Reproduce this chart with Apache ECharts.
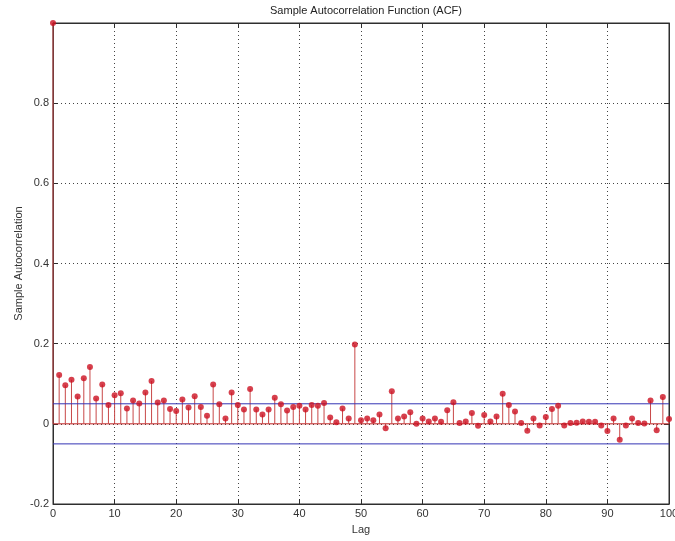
<!DOCTYPE html>
<html>
<head>
<meta charset="utf-8">
<style>
  html, body { margin: 0; padding: 0; background: #fff; }
  #chart { width: 675px; height: 541px; }
</style>
<script src="https://cdn.jsdelivr.net/npm/echarts@6/dist/echarts.min.js"></script>
</head>
<body>
<div id="chart"></div>
<script>
// Sample autocorrelation for lags 0..100
const lags = Array.from({ length: 101 }, (_, i) => i);
const acf = [
  1.000, 0.122, 0.096, 0.110, 0.068, 0.114, 0.142, 0.063, 0.098, 0.047,
  0.071, 0.076, 0.038, 0.058, 0.051, 0.078, 0.107, 0.053, 0.058, 0.037,
  0.032, 0.061, 0.041, 0.069, 0.042, 0.020, 0.098, 0.049, 0.013, 0.078,
  0.047, 0.036, 0.087, 0.036, 0.023, 0.036, 0.065, 0.049, 0.033, 0.042,
  0.045, 0.036, 0.047, 0.045, 0.052, 0.016, 0.004, 0.038, 0.013, 0.198,
  0.009, 0.013, 0.009, 0.023, -0.011, 0.081, 0.013, 0.018, 0.029, 0.000,
  0.013, 0.006, 0.013, 0.005, 0.034, 0.054, 0.002, 0.006, 0.027, -0.005,
  0.022, 0.006, 0.018, 0.075, 0.047, 0.031, 0.002, -0.017, 0.013, -0.004,
  0.017, 0.037, 0.045, -0.004, 0.002, 0.003, 0.006, 0.005, 0.005, -0.004,
  -0.018, 0.013, -0.040, -0.004, 0.013, 0.002, 0.001, 0.058, -0.016, 0.067,
  0.012
];
// Approximate 95% confidence bound
const bound = 0.05;
const xTicks = [0, 10, 20, 30, 40, 50, 60, 70, 80, 90, 100];
const yTicks = [-0.2, 0, 0.2, 0.4, 0.6, 0.8];

const points = lags.map((l, i) => [l, acf[i]]);
const font = 'Liberation Sans, Arial, sans-serif';
const axisColor = '#2e2e2e';
const textColor = '#333';
const boundColor = '#3434b4';

const chart = echarts.init(document.getElementById('chart'), null, { renderer: 'canvas' });

const gridLine = { show: true, lineStyle: { color: '#444', type: [1, 3], width: 1 } };

chart.setOption({
  animation: false,
  backgroundColor: '#fff',
  title: {
    text: 'Sample Autocorrelation Function (ACF)',
    left: 361, top: 0, textAlign: 'center',
    textStyle: { fontFamily: font, fontSize: 11, fontWeight: 'normal', color: '#222' }
  },
  grid: {
    left: 53, right: 6, top: 23, bottom: 37,
    outerBoundsMode: 'none', containLabel: false,
    show: true, borderColor: axisColor, borderWidth: 1
  },
  xAxis: [{
    type: 'value', min: 0, max: 100, interval: 10,
    name: 'Lag', nameLocation: 'middle', nameGap: 20, nameMoveOverlap: false,
    nameTextStyle: { fontFamily: font, fontSize: 11, color: textColor },
    axisLine: { show: true, onZero: false, lineStyle: { color: axisColor } },
    axisTick: { show: true, inside: true, length: 5, lineStyle: { color: axisColor } },
    axisLabel: {
      fontFamily: font, fontSize: 11, color: textColor, margin: 4,
      formatter: v => xTicks.includes(v) ? String(v) : ''
    },
    splitLine: gridLine
  }, {
    type: 'value', min: 0, max: 100, interval: 10, position: 'top',
    axisLine: { show: true, onZero: false, lineStyle: { color: axisColor } },
    axisTick: { show: true, inside: true, length: 5, lineStyle: { color: axisColor } },
    axisLabel: { show: false }, splitLine: { show: false }
  }],
  yAxis: [{
    type: 'value', min: -0.2, max: 1, interval: 0.2,
    name: 'Sample Autocorrelation', nameLocation: 'middle', nameGap: 29, nameMoveOverlap: false,
    nameTextStyle: { fontFamily: font, fontSize: 11, color: textColor },
    axisLine: { show: true, onZero: false, lineStyle: { color: axisColor } },
    axisTick: { show: true, inside: true, length: 5, lineStyle: { color: axisColor } },
    axisLabel: {
      fontFamily: font, fontSize: 11, color: textColor, margin: 4,
      formatter: v => {
        const r = Math.round(v * 10) / 10;
        return yTicks.some(t => Math.abs(t - r) < 1e-9) ? String(r) : '';
      }
    },
    splitLine: gridLine
  }, {
    type: 'value', min: -0.2, max: 1, interval: 0.2, position: 'right',
    axisLine: { show: true, onZero: false, lineStyle: { color: axisColor } },
    axisTick: { show: true, inside: true, length: 5, lineStyle: { color: axisColor } },
    axisLabel: { show: false }, splitLine: { show: false }
  }],
  series: [
    {
      // baseline at zero
      type: 'line', data: [[0, 0], [100, 0]], symbol: 'none', silent: true,
      lineStyle: { color: '#c02020', width: 1 }, z: 2
    },
    {
      // stems
      type: 'bar', data: points, barWidth: 1, silent: true,
      itemStyle: { color: '#c84848' }, z: 3
    },
    {
      type: 'line', data: [[0, bound], [100, bound]], symbol: 'none', silent: true,
      lineStyle: { color: boundColor, width: 1 }, z: 4
    },
    {
      type: 'line', data: [[0, -bound], [100, -bound]], symbol: 'none', silent: true,
      lineStyle: { color: boundColor, width: 1 }, z: 4
    },
    {
      // stem heads
      type: 'scatter', data: points, symbol: 'circle', symbolSize: 6, clip: false,
      itemStyle: { color: '#cc1020' }, z: 5
    }
  ]
});
</script>
</body>
</html>
